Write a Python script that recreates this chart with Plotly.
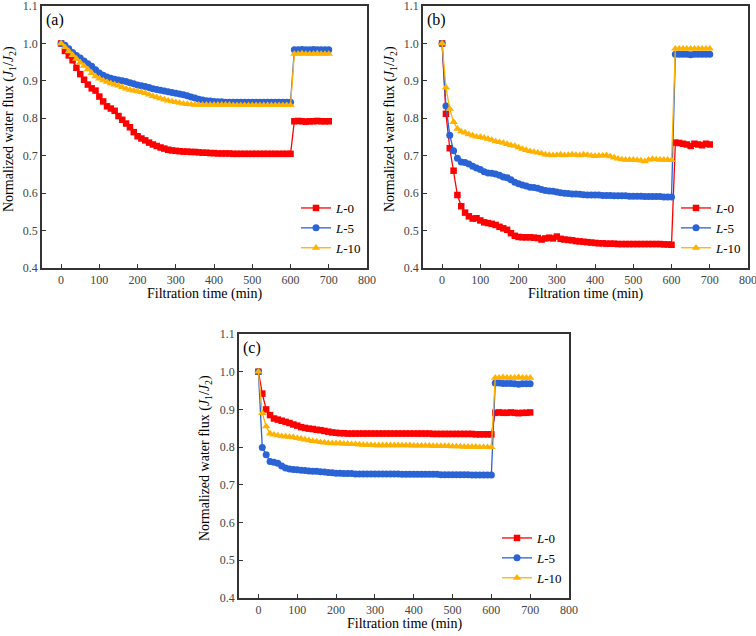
import plotly.graph_objects as go

TIME = [0, 10, 20, 30, 40, 50, 60, 70, 80, 90,
        100, 110, 120, 130, 140, 150, 160, 170, 180, 190,
        200, 210, 220, 230, 240, 250, 260, 270, 280, 290,
        300, 310, 320, 330, 340, 350, 360, 370, 380, 390,
        400, 410, 420, 430, 440, 450, 460, 470, 480, 490,
        500, 510, 520, 530, 540, 550, 560, 570, 580, 590,
        600,
        610, 620, 630, 640, 650, 660, 670, 680, 690, 700]

SERIES_NAMES = ["<i>L</i>-0", "<i>L</i>-5", "<i>L</i>-10"]
X_TICKS = [0, 100, 200, 300, 400, 500, 600, 700, 800]
Y_TICKS = [0.4, 0.5, 0.6, 0.7, 0.8, 0.9, 1.0, 1.1]
PANEL_LABELS = ["(a)", "(b)", "(c)"]

# Panel (a)
A_L0 = [1.000, 0.980, 0.968, 0.955, 0.935, 0.918, 0.903, 0.890, 0.880, 0.874,
        0.858, 0.845, 0.832, 0.826, 0.820, 0.806, 0.796, 0.786, 0.776, 0.763,
        0.752, 0.746, 0.741, 0.735, 0.730, 0.726, 0.722, 0.719, 0.716, 0.714,
        0.713, 0.712, 0.711, 0.711, 0.710, 0.710, 0.709, 0.708, 0.708, 0.707,
        0.707, 0.706, 0.706, 0.706, 0.706, 0.705, 0.705, 0.705, 0.705, 0.705,
        0.705, 0.705, 0.705, 0.705, 0.705, 0.705, 0.705, 0.705, 0.705, 0.705,
        0.705,
        0.792, 0.793, 0.792, 0.791, 0.792, 0.792, 0.793, 0.792, 0.792, 0.792]
A_L5 = [1.000, 0.995, 0.986, 0.976, 0.968, 0.961, 0.953, 0.946, 0.939, 0.930,
        0.921, 0.915, 0.910, 0.907, 0.904, 0.902, 0.900, 0.898, 0.895, 0.892,
        0.889, 0.887, 0.885, 0.882, 0.879, 0.877, 0.875, 0.873, 0.871, 0.869,
        0.867, 0.865, 0.863, 0.860, 0.857, 0.854, 0.851, 0.849, 0.847, 0.846,
        0.845, 0.844, 0.844, 0.843, 0.843, 0.843, 0.843, 0.843, 0.843, 0.843,
        0.843, 0.843, 0.843, 0.843, 0.843, 0.843, 0.843, 0.843, 0.843, 0.843,
        0.843,
        0.983, 0.983, 0.984, 0.983, 0.983, 0.984, 0.983, 0.983, 0.983, 0.983]
A_L10 = [1.000, 0.990, 0.979, 0.969, 0.959, 0.949, 0.940, 0.931, 0.921, 0.912,
         0.906, 0.901, 0.897, 0.893, 0.890, 0.887, 0.883, 0.879, 0.876, 0.874,
         0.872, 0.870, 0.867, 0.863, 0.859, 0.856, 0.853, 0.850, 0.847, 0.845,
         0.843, 0.841, 0.839, 0.838, 0.837, 0.836, 0.836, 0.836, 0.836, 0.836,
         0.836, 0.836, 0.836, 0.836, 0.836, 0.835, 0.835, 0.835, 0.835, 0.835,
         0.835, 0.835, 0.835, 0.835, 0.835, 0.835, 0.835, 0.835, 0.835, 0.835,
         0.835,
         0.972, 0.972, 0.973, 0.972, 0.972, 0.972, 0.973, 0.972, 0.972, 0.972]

# Panel (b)
B_L0 = [1.000, 0.812, 0.720, 0.660, 0.595, 0.565, 0.548, 0.538, 0.532, 0.533,
        0.527, 0.522, 0.520, 0.518, 0.515, 0.510, 0.506, 0.502, 0.493, 0.486,
        0.483, 0.482, 0.482, 0.482, 0.481, 0.480, 0.476, 0.479, 0.481, 0.479,
        0.484, 0.478, 0.476, 0.475, 0.474, 0.472, 0.471, 0.470, 0.469, 0.468,
        0.467, 0.466, 0.466, 0.465, 0.465, 0.465, 0.464, 0.464, 0.464, 0.464,
        0.464, 0.464, 0.464, 0.464, 0.464, 0.464, 0.464, 0.464, 0.463, 0.463,
        0.462,
        0.735, 0.734, 0.732, 0.730, 0.726, 0.732, 0.730, 0.728, 0.732, 0.730]
B_L5 = [1.000, 0.833, 0.755, 0.713, 0.693, 0.683, 0.682, 0.678, 0.672, 0.667,
        0.663, 0.657, 0.654, 0.653, 0.651, 0.648, 0.643, 0.641, 0.636, 0.629,
        0.625, 0.622, 0.619, 0.616, 0.615, 0.613, 0.610, 0.607, 0.606, 0.605,
        0.603, 0.601, 0.600, 0.599, 0.598, 0.598, 0.597, 0.596, 0.595, 0.595,
        0.595, 0.595, 0.594, 0.594, 0.594, 0.593, 0.593, 0.593, 0.593, 0.592,
        0.592, 0.592, 0.592, 0.591, 0.591, 0.591, 0.591, 0.591, 0.590, 0.590,
        0.590,
        0.971, 0.971, 0.971, 0.971, 0.970, 0.971, 0.971, 0.971, 0.971, 0.971]
B_L10 = [1.000, 0.882, 0.825, 0.790, 0.772, 0.765, 0.762, 0.757, 0.754, 0.751,
         0.750, 0.748, 0.745, 0.742, 0.738, 0.736, 0.734, 0.731, 0.728, 0.726,
         0.722, 0.718, 0.715, 0.712, 0.710, 0.708, 0.706, 0.703, 0.702, 0.701,
         0.702, 0.703, 0.701, 0.702, 0.703, 0.702, 0.701, 0.703, 0.702, 0.700,
         0.699, 0.700, 0.700, 0.701, 0.698, 0.695, 0.692, 0.690, 0.689, 0.689,
         0.689, 0.688, 0.687, 0.685, 0.689, 0.691, 0.690, 0.689, 0.689, 0.689,
         0.688,
         0.986, 0.986, 0.986, 0.986, 0.986, 0.986, 0.986, 0.986, 0.986, 0.986]

# Panel (c)
C_L0 = [1.000, 0.942, 0.900, 0.885, 0.876, 0.873, 0.870, 0.867, 0.864, 0.860,
        0.857, 0.853, 0.851, 0.849, 0.848, 0.846, 0.845, 0.843, 0.841, 0.839,
        0.838, 0.837, 0.837, 0.836, 0.836, 0.836, 0.836, 0.836, 0.836, 0.836,
        0.836, 0.836, 0.836, 0.836, 0.836, 0.836, 0.836, 0.836, 0.836, 0.836,
        0.836, 0.836, 0.836, 0.836, 0.836, 0.835, 0.835, 0.835, 0.835, 0.835,
        0.835, 0.835, 0.835, 0.835, 0.835, 0.835, 0.834, 0.834, 0.834, 0.834,
        0.834,
        0.891, 0.892, 0.891, 0.891, 0.892, 0.891, 0.890, 0.891, 0.891, 0.892]
C_L5 = [1.000, 0.799, 0.780, 0.762, 0.760, 0.757, 0.750, 0.745, 0.742, 0.741,
        0.740, 0.739, 0.738, 0.737, 0.736, 0.736, 0.735, 0.734, 0.733, 0.732,
        0.731, 0.731, 0.730, 0.730, 0.730, 0.729, 0.729, 0.729, 0.729, 0.729,
        0.729, 0.729, 0.729, 0.729, 0.729, 0.729, 0.729, 0.728, 0.728, 0.728,
        0.728, 0.728, 0.728, 0.728, 0.728, 0.728, 0.728, 0.727, 0.727, 0.727,
        0.727, 0.727, 0.727, 0.727, 0.727, 0.726, 0.726, 0.726, 0.726, 0.726,
        0.726,
        0.970, 0.970, 0.969, 0.969, 0.969, 0.968, 0.967, 0.968, 0.968, 0.968]
C_L10 = [1.000, 0.890, 0.855, 0.836, 0.833, 0.831, 0.829, 0.828, 0.827, 0.826,
         0.824, 0.822, 0.820, 0.818, 0.816, 0.815, 0.813, 0.812, 0.811, 0.810,
         0.810, 0.810, 0.809, 0.809, 0.808, 0.808, 0.807, 0.806, 0.806, 0.806,
         0.805, 0.805, 0.805, 0.805, 0.805, 0.805, 0.805, 0.805, 0.805, 0.805,
         0.804, 0.804, 0.804, 0.804, 0.804, 0.803, 0.803, 0.803, 0.803, 0.803,
         0.802, 0.802, 0.802, 0.801, 0.801, 0.801, 0.801, 0.800, 0.800, 0.800,
         0.800,
         0.984, 0.984, 0.985, 0.984, 0.984, 0.984, 0.985, 0.984, 0.984, 0.984]

PANELS = [[A_L0, A_L5, A_L10], [B_L0, B_L5, B_L10], [C_L0, C_L5, C_L10]]

COLORS = ["#FF0000", "#2A63D6", "#FFB300"]
SYMBOLS = ["square", "circle", "triangle-up"]
MSIZES = [6.5, 7, 7.5]

W, H = 756, 636
# panel boxes in pixels: (left, right, top, bottom)
BOXES = [(42, 367, 6, 268), (423, 748, 6, 268), (239, 569, 334, 598)]
LEGEND_POS = [(296, 193), (676, 193), (497, 523)]

FONT = "Liberation Serif"

fig = go.Figure()
layout = dict(width=W, height=H, margin=dict(l=0, r=0, t=0, b=0),
              paper_bgcolor="white", plot_bgcolor="white",
              font=dict(family=FONT, color="#000000"))
annotations = []

for p, (box, series) in enumerate(zip(BOXES, PANELS)):
    sfx = "" if p == 0 else str(p + 1)
    left, right, top, bottom = box
    xdom = [left / W, right / W]
    ydom = [1 - bottom / H, 1 - top / H]
    legname = "legend" + sfx
    for i, ys in enumerate(series):
        fig.add_trace(go.Scatter(
            x=TIME, y=ys, mode="lines+markers", name=SERIES_NAMES[i],
            line=dict(color=COLORS[i], width=1.3),
            marker=dict(symbol=SYMBOLS[i], size=MSIZES[i], color=COLORS[i], line=dict(width=0)),
            xaxis="x" + sfx, yaxis="y" + sfx, legend=legname,
        ))
    axcommon = dict(showline=True, mirror=True, linecolor="#333333", linewidth=1.5,
                    ticks="inside", ticklen=4, tickwidth=1.2, tickcolor="#333333",
                    showgrid=False, zeroline=False, automargin=False,
                    ticklabeloverflow="allow",
                    tickfont=dict(family=FONT, size=12, color="#444444"))
    layout["xaxis" + sfx] = dict(domain=xdom, range=[-50, 800], tickvals=X_TICKS,
                                 anchor="y" + sfx, **axcommon)
    layout["yaxis" + sfx] = dict(domain=ydom, range=[0.4, 1.1], tickvals=Y_TICKS,
                                 tickformat=".1f", anchor="x" + sfx, **axcommon)
    lx, ly = LEGEND_POS[p]
    layout[legname] = dict(x=lx / W, y=1 - ly / H, xanchor="left", yanchor="top",
                           bgcolor="rgba(0,0,0,0)", borderwidth=0, itemwidth=30,
                           font=dict(family=FONT, size=13, color="#000000"),
                           tracegroupgap=0)
    # panel label
    annotations.append(dict(text=PANEL_LABELS[p], xref="paper", yref="paper",
                            x=(left + 2) / W, y=1 - (top + 14) / H,
                            xanchor="left", yanchor="middle", showarrow=False,
                            font=dict(family=FONT, size=16, color="#000000")))
    # axis titles
    annotations.append(dict(text="Filtration time (min)", xref="paper", yref="paper",
                            x=(left + right) / 2 / W, y=1 - (bottom + 26) / H,
                            xanchor="center", yanchor="middle", showarrow=False,
                            font=dict(family=FONT, size=14, color="#000000")))
    annotations.append(dict(text="Normalized water flux (<i>J</i><sub>1</sub>/<i>J</i><sub>2</sub>)",
                            xref="paper", yref="paper",
                            x=(left - 33) / W, y=1 - ((top + bottom) / 2 - 8) / H,
                            xanchor="center", yanchor="middle", showarrow=False, textangle=-90,
                            font=dict(family=FONT, size=14, color="#000000")))

layout["annotations"] = annotations
fig.update_layout(**layout)
fig.write_html("out.html", config={"displayModeBar": False},
               post_script="document.body.style.margin='0';document.body.style.overflow='hidden';")
